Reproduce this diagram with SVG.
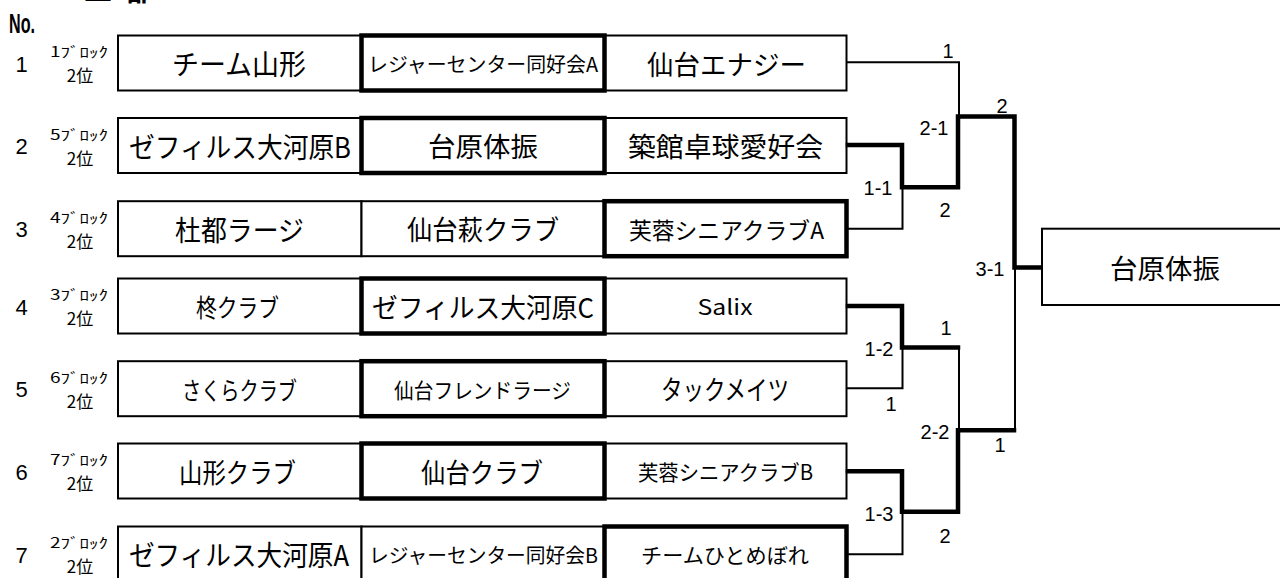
<svg xmlns="http://www.w3.org/2000/svg" width="1280" height="578" viewBox="0 0 1280 578">
<style>
.cell{fill:#fff;stroke:#000;stroke-width:2}
.win{fill:none;stroke:#000;stroke-width:4.5}
.t{font-family:"Noto Sans CJK JP","Noto Sans",sans-serif;fill:#000;text-anchor:middle;dominant-baseline:central}
.n{font-family:"Liberation Sans",Arial,sans-serif;font-size:22px;fill:#000;text-anchor:middle}
.blk{font-family:"Noto Sans CJK JP",sans-serif;font-size:14px;fill:#000;text-anchor:middle}
.pos{font-family:"Noto Sans CJK JP",sans-serif;font-size:17px;fill:#000;text-anchor:middle}
.sc{font-family:"Liberation Sans",Arial,sans-serif;font-size:20px;fill:#000;text-anchor:middle}
.thin{fill:none;stroke:#000;stroke-width:2}
.thick{fill:none;stroke:#000;stroke-width:4.5;stroke-linejoin:miter;stroke-linecap:square}
</style>
<rect width="1280" height="578" fill="#fff"/>
<text x="84" y="1" font-family="'Noto Sans CJK JP',sans-serif" font-size="28" font-weight="bold">二<tspan x="126">部</tspan></text>
<text x="9" y="33" font-family="'Liberation Sans',Arial,sans-serif" font-size="28" font-weight="bold" textLength="26" lengthAdjust="spacingAndGlyphs">No.</text>

<g id="row-labels">
<text class="n" x="21.5" y="71.5">1</text>
<text class="blk" x="79" y="57" textLength="58" lengthAdjust="spacingAndGlyphs">1ﾌﾞﾛｯｸ</text>
<text class="pos" x="80" y="82">2位</text>
<text class="n" x="21.5" y="154">2</text>
<text class="blk" x="79" y="139.5" textLength="58" lengthAdjust="spacingAndGlyphs">5ﾌﾞﾛｯｸ</text>
<text class="pos" x="80" y="164.5">2位</text>
<text class="n" x="21.5" y="237.2">3</text>
<text class="blk" x="79" y="222.7" textLength="58" lengthAdjust="spacingAndGlyphs">4ﾌﾞﾛｯｸ</text>
<text class="pos" x="80" y="247.7">2位</text>
<text class="n" x="21.5" y="314.5">4</text>
<text class="blk" x="79" y="300" textLength="58" lengthAdjust="spacingAndGlyphs">3ﾌﾞﾛｯｸ</text>
<text class="pos" x="80" y="325">2位</text>
<text class="n" x="21.5" y="397.2">5</text>
<text class="blk" x="79" y="382.7" textLength="58" lengthAdjust="spacingAndGlyphs">6ﾌﾞﾛｯｸ</text>
<text class="pos" x="80" y="407.7">2位</text>
<text class="n" x="21.5" y="479.5">6</text>
<text class="blk" x="79" y="465" textLength="58" lengthAdjust="spacingAndGlyphs">7ﾌﾞﾛｯｸ</text>
<text class="pos" x="80" y="490">2位</text>
<text class="n" x="21.5" y="562.5">7</text>
<text class="blk" x="79" y="548" textLength="58" lengthAdjust="spacingAndGlyphs">2ﾌﾞﾛｯｸ</text>
<text class="pos" x="80" y="573">2位</text>
</g>

<g id="r1c1"><rect class="cell" x="118" y="35.5" width="243.5" height="55"/><text class="t" x="239" y="63" font-size="28" textLength="134" lengthAdjust="spacingAndGlyphs">チーム山形</text></g>
<g id="r1c3"><rect class="cell" x="604.5" y="35.5" width="242" height="55"/><text class="t" x="726.5" y="63" font-size="27" textLength="159" lengthAdjust="spacingAndGlyphs">仙台エナジー</text></g>
<g id="r1c2"><rect class="cell" x="361.5" y="35.5" width="243" height="55"/><rect class="win" x="361.5" y="35.5" width="243" height="55"/><text class="t" x="483" y="63" font-size="20" textLength="230" lengthAdjust="spacingAndGlyphs">レジャーセンター同好会A</text></g>

<g id="r2c1"><rect class="cell" x="118" y="118" width="243.5" height="55"/><text class="t" x="240" y="145.5" font-size="28" textLength="222" lengthAdjust="spacingAndGlyphs">ゼフィルス大河原B</text></g>
<g id="r2c3"><rect class="cell" x="604.5" y="118" width="242" height="55"/><text class="t" x="725.5" y="145.5" font-size="27" textLength="195" lengthAdjust="spacingAndGlyphs">築館卓球愛好会</text></g>
<g id="r2c2"><rect class="cell" x="361.5" y="118" width="243" height="55"/><rect class="win" x="361.5" y="118" width="243" height="55"/><text class="t" x="483" y="145.5" font-size="27" textLength="110" lengthAdjust="spacingAndGlyphs">台原体振</text></g>

<g id="r3c1"><rect class="cell" x="118" y="201.2" width="243.5" height="55"/><text class="t" x="239.5" y="228.7" font-size="28" textLength="129" lengthAdjust="spacingAndGlyphs">杜都ラージ</text></g>
<g id="r3c2"><rect class="cell" x="361.5" y="201.2" width="243" height="55"/><text class="t" x="483" y="228.7" font-size="27" textLength="152" lengthAdjust="spacingAndGlyphs">仙台萩クラブ</text></g>
<g id="r3c3"><rect class="cell" x="604.5" y="201.2" width="242" height="55"/><rect class="win" x="604.5" y="201.2" width="242" height="55"/><text class="t" x="726.5" y="228.7" font-size="23" textLength="195" lengthAdjust="spacingAndGlyphs">芙蓉シニアクラブA</text></g>

<g id="r4c1"><rect class="cell" x="118" y="278.5" width="243.5" height="55"/><text class="t" x="237.5" y="306" font-size="25" textLength="83" lengthAdjust="spacingAndGlyphs">柊クラブ</text></g>
<g id="r4c3"><rect class="cell" x="604.5" y="278.5" width="242" height="55"/><text class="t" x="725" y="306" font-size="21" textLength="55" lengthAdjust="spacingAndGlyphs">Salix</text></g>
<g id="r4c2"><rect class="cell" x="361.5" y="278.5" width="243" height="55"/><rect class="win" x="361.5" y="278.5" width="243" height="55"/><text class="t" x="483" y="306" font-size="27" textLength="222" lengthAdjust="spacingAndGlyphs">ゼフィルス大河原C</text></g>

<g id="r5c1"><rect class="cell" x="118" y="361.2" width="243.5" height="55"/><text class="t" x="239.5" y="388.7" font-size="25" textLength="115" lengthAdjust="spacingAndGlyphs">さくらクラブ</text></g>
<g id="r5c3"><rect class="cell" x="604.5" y="361.2" width="242" height="55"/><text class="t" x="725" y="388.7" font-size="27" textLength="128" lengthAdjust="spacingAndGlyphs">タックメイツ</text></g>
<g id="r5c2"><rect class="cell" x="361.5" y="361.2" width="243" height="55"/><rect class="win" x="361.5" y="361.2" width="243" height="55"/><text class="t" x="482.5" y="388.7" font-size="21" textLength="177" lengthAdjust="spacingAndGlyphs">仙台フレンドラージ</text></g>

<g id="r6c1"><rect class="cell" x="118" y="443.5" width="243.5" height="55"/><text class="t" x="237.5" y="471" font-size="27" textLength="117" lengthAdjust="spacingAndGlyphs">山形クラブ</text></g>
<g id="r6c3"><rect class="cell" x="604.5" y="443.5" width="242" height="55"/><text class="t" x="725.5" y="471" font-size="21" textLength="175" lengthAdjust="spacingAndGlyphs">芙蓉シニアクラブB</text></g>
<g id="r6c2"><rect class="cell" x="361.5" y="443.5" width="243" height="55"/><rect class="win" x="361.5" y="443.5" width="243" height="55"/><text class="t" x="482" y="471" font-size="27" textLength="122" lengthAdjust="spacingAndGlyphs">仙台クラブ</text></g>

<g id="r7c1"><rect class="cell" x="118" y="526.5" width="243.5" height="55"/><text class="t" x="239" y="554" font-size="28" textLength="220" lengthAdjust="spacingAndGlyphs">ゼフィルス大河原A</text></g>
<g id="r7c2"><rect class="cell" x="361.5" y="526.5" width="243" height="55"/><text class="t" x="483.5" y="554" font-size="20" textLength="229" lengthAdjust="spacingAndGlyphs">レジャーセンター同好会B</text></g>
<g id="r7c3"><rect class="cell" x="604.5" y="526.5" width="242" height="55"/><rect class="win" x="604.5" y="526.5" width="242" height="55"/><text class="t" x="725" y="554" font-size="21" textLength="168" lengthAdjust="spacingAndGlyphs">チームひとめぼれ</text></g>

<g id="final"><rect class="cell" x="1042" y="228.7" width="260" height="76.3" stroke-width="2.5"/><text class="t" x="1165" y="267" font-size="27" textLength="110" lengthAdjust="spacingAndGlyphs">台原体振</text></g>

<g id="connectors">
<path class="thin" d="M846.5 62.3H959V116.5"/>
<path class="thin" d="M846.5 228.8H902.5V187.3"/>
<path class="thin" d="M846.5 388.3H902.5V347.5"/>
<path class="thin" d="M959 347.5V430.3"/>
<path class="thin" d="M1015 430.3V267.5"/>
<path class="thin" d="M846.5 554.3H902.5V511.7"/>
<path class="thick" d="M848 145H902V187.3H958V116.5H1014.5V267.5H1040"/>
<path class="thick" d="M848 306H902V347.5H958"/>
<path class="thick" d="M848 471.3H902V511.7H958V430.3H1014"/>
</g>

<g id="scores">
<text class="sc" x="948" y="58">1</text>
<text class="sc" x="934" y="135">2-1</text>
<text class="sc" x="1002" y="113">2</text>
<text class="sc" x="878" y="195">1-1</text>
<text class="sc" x="945" y="217">2</text>
<text class="sc" x="990" y="276">3-1</text>
<text class="sc" x="946" y="335">1</text>
<text class="sc" x="879" y="356">1-2</text>
<text class="sc" x="891" y="411">1</text>
<text class="sc" x="935" y="439">2-2</text>
<text class="sc" x="1000" y="452">1</text>
<text class="sc" x="879" y="521">1-3</text>
<text class="sc" x="945" y="543">2</text>
</g>
</svg>
